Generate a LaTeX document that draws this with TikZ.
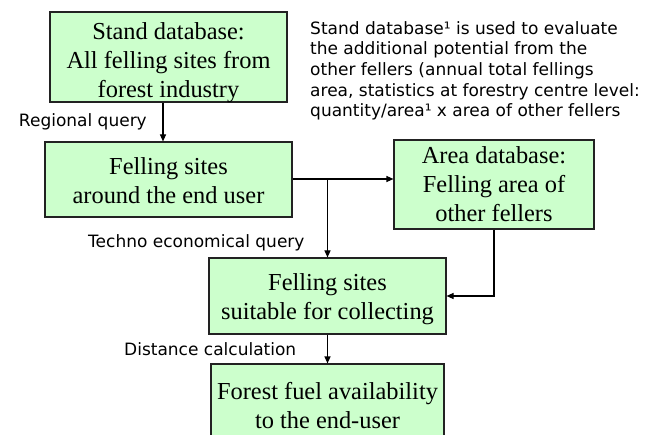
\documentclass[tikz,border=0pt]{standalone}
\usepackage{fontspec}
\setmainfont{Liberation Serif}
\newfontfamily\labfont{DejaVu Sans}
\usetikzlibrary{arrows.meta}
\definecolor{boxfill}{HTML}{CCFFCC}
\definecolor{boxline}{HTML}{222222}
\tikzset{
  box/.style={draw=boxline, line width=1.1pt, fill=boxfill, inner sep=0pt},
  boxtext/.style={align=center, inner sep=0pt, font=\fontsize{24.4}{29}\selectfont},
  lab/.style={inner sep=0pt, font=\labfont\fontsize{17}{20.7}\selectfont},
  conn/.style={line width=1.1pt, draw=black},
  arr/.style={conn, -{Triangle[length=7pt,width=6pt]}}
}
\begin{document}
\begin{tikzpicture}[x=1pt,y=-1pt]
\useasboundingbox (0,0) rectangle (655,435);
\node[box, minimum width=237pt, minimum height=90pt] (b1) at (168.5,57) {};
\node[boxtext] (b1t) at ([yshift=-5.5pt]b1.center) {Stand database:\\All felling sites from\\forest industry};
\node[box, minimum width=247pt, minimum height=75pt] (b2) at (168.5,179.5) {};
\node[boxtext] (b2t) at ([yshift=-1.5pt]b2.center) {Felling sites\\around the end user};
\node[box, minimum width=200pt, minimum height=89pt] (area) at (494,184.5) {};
\node[boxtext] (areat) at (area.center) {Area database:\\Felling area of\\other fellers};
\node[box, minimum width=237pt, minimum height=76pt] (suit) at (327.5,296) {};
\node[boxtext] (suitt) at ([yshift=-3pt]suit.center) {Felling sites\\suitable for collecting};
\node[box, minimum width=233pt, minimum height=80pt] (fin) at (327.5,404) {};
\node[boxtext] (fint) at ([yshift=-1.5pt]fin.center) {Forest fuel availability\\to the end-user};

\node[lab, anchor=base east] (l1) at (147,127) {Regional query};
\node[lab, anchor=base west] (l2) at (88,248) {Techno economical query};
\node[lab, anchor=base west] (l3) at (124,355) {Distance calculation};
\node[lab, anchor=north west, align=left] (note) at (310,21) {Stand database¹ is used to evaluate\\the additional potential from the\\other fellers (annual total fellings\\area, statistics at forestry centre level:\\quantity/area¹ x area of other fellers};

\coordinate (s1) at ([xshift=-5.5pt]b1.south);
\draw[arr] (s1) -- (s1 |- b2.north);
\coordinate (e2) at ([yshift=0.5pt]b2.east);
\draw[arr] (e2) -- (e2 -| area.west);
\coordinate (br) at (e2 -| suit.north);
\draw[arr] (br) -- (suit.north);
\draw[arr] (area.south) |- (suit.east);
\draw[arr] (suit.south) -- (fin.north);
\end{tikzpicture}
\end{document}
